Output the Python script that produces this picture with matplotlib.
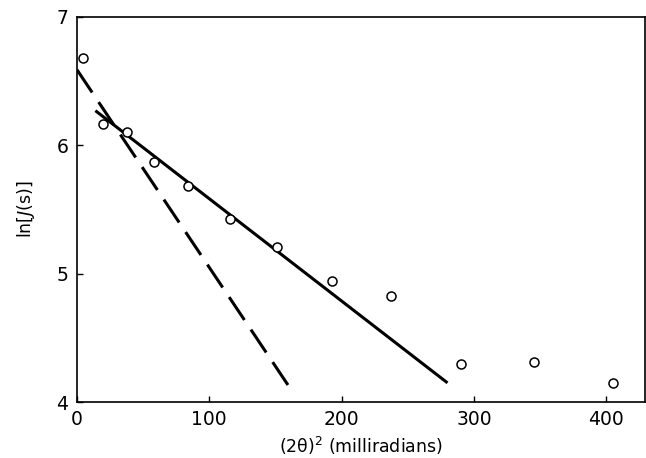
import matplotlib
matplotlib.use("Agg")
from matplotlib import pyplot as plt

# measured points
theta2 = [5, 19.5, 37.5, 58, 84, 116, 151, 193, 237, 290, 345, 405]
ln_j = [6.68, 6.17, 6.10, 5.87, 5.68, 5.43, 5.21, 4.94, 4.83, 4.30, 4.31, 4.15]

# fitted lines (end points)
solid_x = [14, 280]
solid_y = [6.27, 4.15]
dashed_x = [0, 161]
dashed_y = [6.59, 4.11]

fig = plt.figure(figsize=(6.46, 4.58), dpi=100)
ax = fig.add_axes([0.119, 0.122, 0.879, 0.841])

ax.plot(solid_x, solid_y, color='black', lw=2.2, solid_capstyle='butt')
ax.plot(dashed_x, dashed_y, color='black', lw=2.2, dashes=(9, 3.8))
ax.plot(theta2, ln_j, 'o', ms=6.5, mfc='white', mec='black', mew=1.1)

ax.set_xlim(0, 429)
ax.set_ylim(4, 7)
ax.set_xticks([0, 100, 200, 300, 400])
ax.set_yticks([4, 5, 6, 7])
ax.tick_params(direction='in', length=4, width=1, labelsize=13.5, pad=6)
for s in ax.spines.values():
    s.set_linewidth(1.2)

ax.set_xlabel('(2θ)$^2$ (milliradians)', fontsize=12.5, labelpad=4)
ax.set_ylabel(r'ln[$J$(s)]', fontsize=12.5, labelpad=14)

fig.savefig('out.png', dpi=100)
